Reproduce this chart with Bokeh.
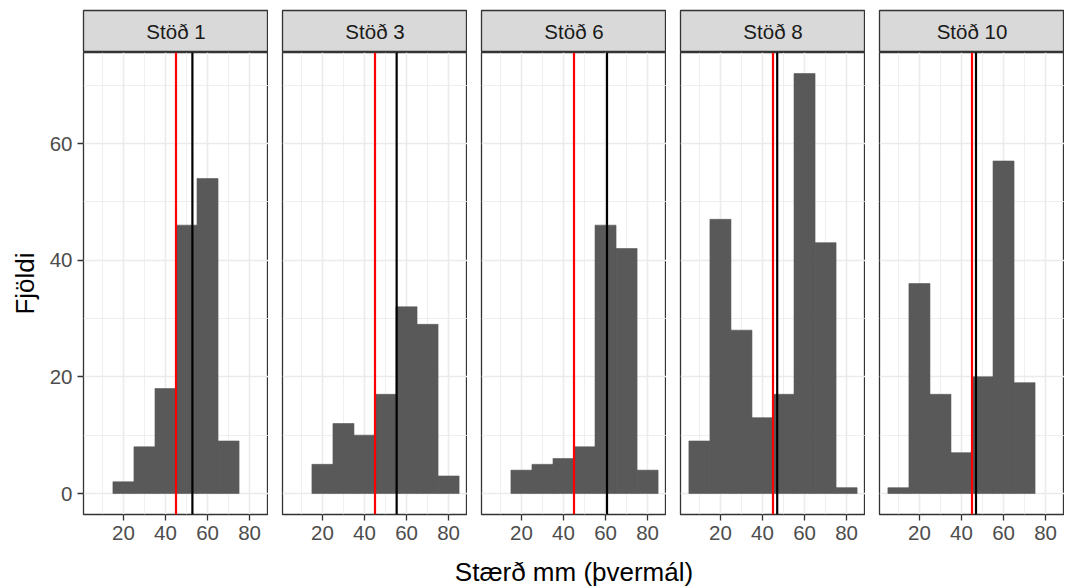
from bokeh.plotting import figure
from bokeh.layouts import column, row
from bokeh.models import Range1d, FixedTicker, Grid, Span, ColumnDataSource
from bokeh.embed import file_html
from bokeh.resources import INLINE
from bokeh.core.properties import value

# ---------------- data ----------------
stations = ["Stöð 1", "Stöð 3", "Stöð 6", "Stöð 8", "Stöð 10"]
bin_centers = [10, 20, 30, 40, 50, 60, 70, 80]
binwidth = 10
counts_st1 = [0, 2, 8, 18, 46, 54, 9, 0]
counts_st3 = [0, 5, 12, 10, 17, 32, 29, 3]
counts_st6 = [0, 4, 5, 6, 8, 46, 42, 4]
counts_st8 = [9, 47, 28, 13, 17, 72, 43, 1]
counts_st10 = [1, 36, 17, 7, 20, 57, 19, 0]
mean_sizes = [52.8, 55.3, 60.7, 47.0, 46.9]
reference_size = 45
x_ticks = [20, 40, 60, 80]
x_minor = [10, 30, 50, 70]
y_ticks = [0, 20, 40, 60]
y_minor = [10, 30, 50, 70]
x_label = "Stærð mm (þvermál)"
y_label = "Fjöldi"

all_counts = [counts_st1, counts_st3, counts_st6, counts_st8, counts_st10]

# ---------------- styling ----------------
FONT = "Liberation Sans"
FW, FH = 185, 462
GAP = 14
LEFT = 83
STRIP_H = 42
STRIP_TOP = 10
PANEL_BOTTOM = 42
LABEL_H = 586 - STRIP_TOP - STRIP_H - FH - PANEL_BOTTOM
BAR = "#595959"
GRID = "#EBEBEB"
DARK = "#333333"
TICKTXT = "#4D4D4D"

lo = min(bin_centers) - binwidth / 2
hi = max(bin_centers) + binwidth / 2
xpad = (hi - lo) * 0.05
ymax = max(max(c) for c in all_counts)
ypad = ymax * 0.05

strips = []
panels = []
for i, (name, counts, m) in enumerate(zip(stations, all_counts, mean_sizes)):
    left_border = LEFT if i == 0 else GAP

    # strip
    s = figure(frame_width=FW, frame_height=STRIP_H, output_backend="svg",
               toolbar_location=None, x_range=Range1d(0, 1), y_range=Range1d(0, 1),
               x_axis_location=None, y_axis_location=None, title=None,
               min_border_left=left_border, min_border_right=0,
               min_border_top=STRIP_TOP, min_border_bottom=0)
    s.background_fill_color = "#D9D9D9"
    s.border_fill_color = "white"
    s.outline_line_color = DARK
    s.outline_line_width = 1.3
    s.grid.visible = False
    s.text(x=[0.5], y=[0.5], text=[name], text_align="center", text_baseline="middle",
           text_font=value(FONT), text_font_size="20.5px", text_color="#1A1A1A")
    strips.append(s)

    # panel
    p = figure(frame_width=FW, frame_height=FH, output_backend="svg",
               toolbar_location=None, title=None,
               x_range=Range1d(lo - xpad, hi + xpad),
               y_range=Range1d(-ypad, ymax + ypad),
               x_axis_location="below",
               y_axis_location="left" if i == 0 else None,
               min_border_left=left_border, min_border_right=0,
               min_border_top=0, min_border_bottom=PANEL_BOTTOM)
    p.background_fill_color = "white"
    p.border_fill_color = "white"
    p.outline_line_color = DARK
    p.outline_line_width = 1.3

    xt = FixedTicker(ticks=x_ticks, minor_ticks=x_minor)
    yt = FixedTicker(ticks=y_ticks, minor_ticks=y_minor)
    p.xaxis.ticker = xt
    if i == 0:
        p.yaxis.ticker = yt
        p.yaxis.axis_label = y_label
    for g in p.grid:
        g.ticker = xt if g.dimension == 0 else yt
    if not any(g.dimension == 1 for g in p.grid):
        p.add_layout(Grid(dimension=1, ticker=yt))

    for ax in p.axis:
        ax.axis_line_color = None
        ax.major_tick_line_color = DARK
        ax.major_tick_line_width = 1.3
        ax.major_tick_out = 6
        ax.major_tick_in = 0
        ax.minor_tick_line_color = None
        ax.major_label_text_font = FONT
        ax.major_label_text_font_size = "20.5px"
        ax.major_label_text_color = TICKTXT
        ax.major_label_standoff = 5
        ax.axis_label_text_font = FONT
        ax.axis_label_text_font_size = "26px"
        ax.axis_label_text_font_style = "normal"
        ax.axis_label_text_color = "black"
    if i == 0:
        p.yaxis.major_label_standoff = 5
        p.yaxis.axis_label_standoff = 7

    for g in p.grid:
        g.grid_line_color = GRID
        g.grid_line_width = 1.6
        g.minor_grid_line_color = GRID
        g.minor_grid_line_width = 0.8

    left = [c - binwidth / 2 for c, n in zip(bin_centers, counts) if n > 0]
    right = [c + binwidth / 2 for c, n in zip(bin_centers, counts) if n > 0]
    top = [n for n in counts if n > 0]
    src = ColumnDataSource(dict(left=left, right=right, top=top, bottom=[0] * len(top)))
    p.quad(left="left", right="right", top="top", bottom="bottom", source=src,
           fill_color=BAR, line_color=BAR, line_width=0.6)

    p.add_layout(Span(location=reference_size, dimension="height",
                      line_color="#FF0000", line_width=2.2))
    p.add_layout(Span(location=m, dimension="height",
                      line_color="black", line_width=2.2))
    panels.append(p)

# x-axis title, centred under the panels
total_w = LEFT + 5 * FW + 4 * GAP
lab = figure(frame_width=total_w, frame_height=LABEL_H, output_backend="svg",
             toolbar_location=None, title=None,
             x_range=Range1d(0, total_w), y_range=Range1d(0, LABEL_H),
             x_axis_location=None, y_axis_location=None,
             min_border=0)
lab.outline_line_color = None
lab.grid.visible = False
lab.text(x=[LEFT + (5 * FW + 4 * GAP) / 2], y=[LABEL_H / 2], text=[x_label],
         text_align="center", text_baseline="middle",
         text_font=value(FONT), text_font_size="26px", text_color="black")

layout = column(row(*strips, spacing=0), row(*panels, spacing=0), lab, spacing=0)

open("out.html", "w").write(file_html(layout, INLINE))
